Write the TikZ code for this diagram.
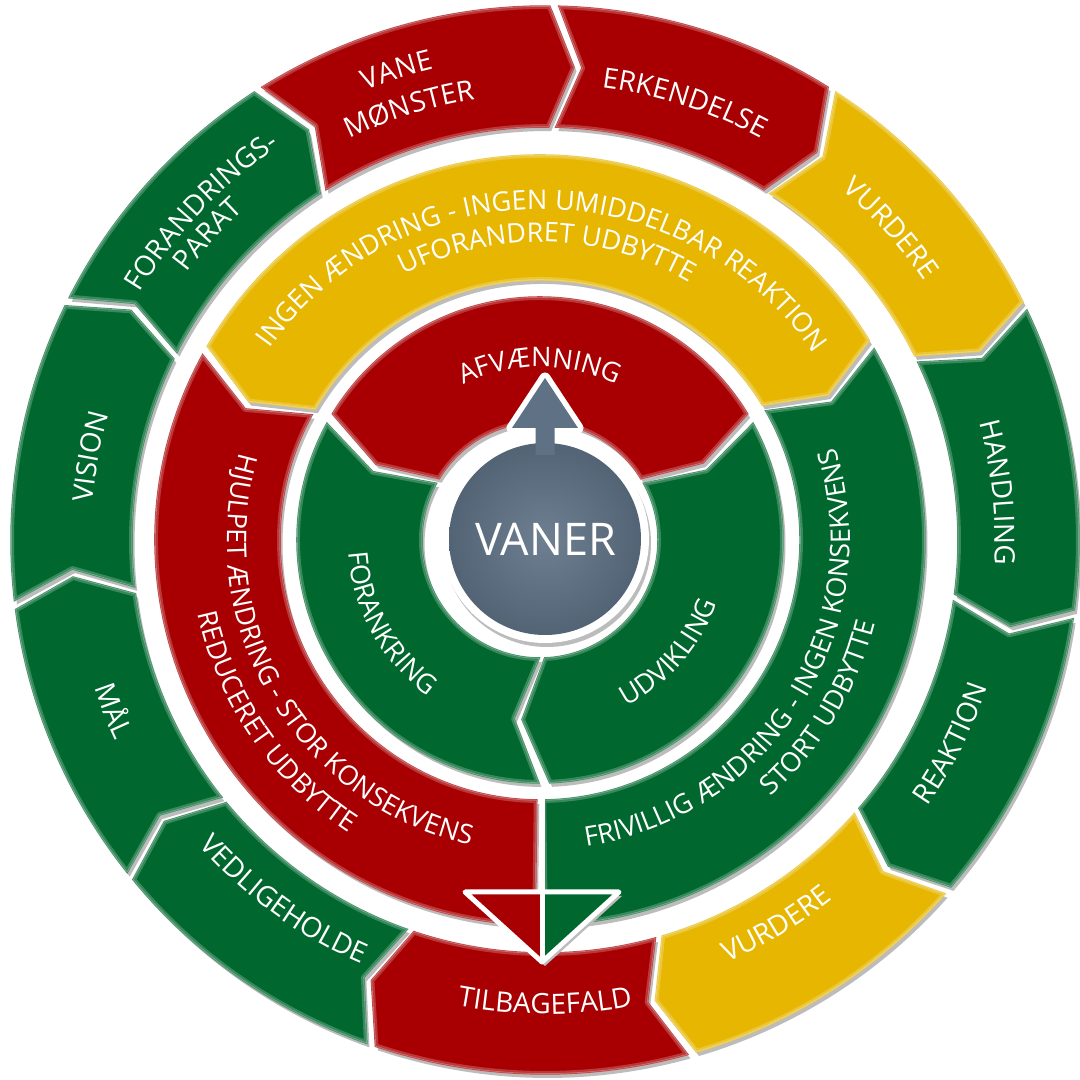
\documentclass[tikz,border=0pt]{standalone}
\usepackage{fontspec}
\setmainfont{Open Sans}
\usetikzlibrary{decorations.text}
\definecolor{cred}{RGB}{168,0,2}
\definecolor{cgreen}{RGB}{0,104,46}
\definecolor{cyellow}{RGB}{230,182,0}
\definecolor{cgrey}{RGB}{94,113,133}
\definecolor{cshadow}{RGB}{188,188,188}
\tikzset{
  segshadow/.style={fill=cshadow, shift={(2.5,-4)}},
  segfill/.style={fill=#1, draw=#1!72!white, line width=1.5},
  segrim/.style={draw=white, draw opacity=0.22, line width=6, line join=round}
}
\newif\ifshad
% #1 start angle (larger), #2 end angle, #3 inner r, #4 outer r, #5 kink at start, #6 kink at end, #7 colour
\newcommand\ringseg[7]{%
  \pgfmathsetmacro\rmid{(#3+#4)/2}%
  \pgfmathsetmacro\sgap{4/\rmid*57.2958}%
  \pgfmathsetmacro\sA{#1-\sgap}%
  \pgfmathsetmacro\sB{#2+\sgap}%
  \pgfmathsetmacro\kA{\sA+(#5)}%
  \pgfmathsetmacro\kB{\sB+(#6)}%
  \ifshad
    \fill[segshadow] (\sA:#4) -- (\kA:\rmid) -- (\sA:#3) arc[start angle=\sA, end angle=\sB, radius=#3] -- (\kB:\rmid) -- (\sB:#4) arc[start angle=\sB, end angle=\sA, radius=#4] -- cycle;
  \else
    \filldraw[segfill=#7] (\sA:#4) -- (\kA:\rmid) -- (\sA:#3) arc[start angle=\sA, end angle=\sB, radius=#3] -- (\kB:\rmid) -- (\sB:#4) arc[start angle=\sB, end angle=\sA, radius=#4] -- cycle;
    \begin{scope}
      \clip (\sA:#4) -- (\kA:\rmid) -- (\sA:#3) arc[start angle=\sA, end angle=\sB, radius=#3] -- (\kB:\rmid) -- (\sB:#4) arc[start angle=\sB, end angle=\sA, radius=#4] -- cycle;
      \draw[segrim] (\sA:#4) -- (\kA:\rmid) -- (\sA:#3) arc[start angle=\sA, end angle=\sB, radius=#3] -- (\kB:\rmid) -- (\sB:#4) arc[start angle=\sB, end angle=\sA, radius=#4] -- cycle;
    \end{scope}
  \fi}
% #1 direction (1 cw, -1 ccw), #2 size, #3 centre angle, #4 radius, #5 half span, #6 text
\newcommand\arctext[6]{%
  \pgfmathsetmacro\tA{#3+(#1)*(#5)}%
  \pgfmathsetmacro\tB{#3-(#1)*(#5)}%
  \path[decorate, decoration={text along path, text align=center, text={|\fontsize{#2}{#2}\selectfont\color{white}|#6}}] (\tA:#4) arc[start angle=\tA, end angle=\tB, radius=#4];}
\newcommand\allsegs{%
  \begin{scope}[shift={(545,540)}]
    \ringseg{122.5}{89}{413}{534}{-3}{-3}{cred}
    \ringseg{89}{57.5}{413}{534}{-3}{-3}{cred}
    \ringseg{57.5}{26}{413}{534}{-3}{-3}{cyellow}
    \ringseg{26}{-8}{413}{534}{-3}{-3}{cgreen}
    \ringseg{-8}{-41}{413}{534}{-3}{-3}{cgreen}
    \ringseg{-41}{-74}{413}{534}{-3}{-3}{cyellow}
    \ringseg{-74}{-109}{413}{534}{-3}{-3}{cred}
    \ringseg{-109}{-141}{413}{534}{-3}{-3}{cgreen}
    \ringseg{-141}{-173}{413}{534}{-3}{-3}{cgreen}
    \ringseg{-173}{-206.5}{413}{534}{-3}{-3}{cgreen}
    \ringseg{153.5}{122.5}{413}{534}{-3}{-3}{cgreen}
  \end{scope}
  \begin{scope}[shift={(540,540)}]
    \ringseg{150.5}{30.5}{260}{385}{4.8}{-4.5}{cyellow}
    \ringseg{270}{150.5}{260}{385}{0}{4.8}{cred}
    \ringseg{30.5}{-90}{260}{385}{-4.5}{0}{cgreen}
    \ringseg{150}{30}{118}{243}{6.5}{-6}{cred}
    \ringseg{30}{-89}{118}{243}{-6}{-8}{cgreen}
    \ringseg{271}{150}{118}{243}{-8}{6.5}{cgreen}
  \end{scope}}
\begin{document}
\begin{tikzpicture}[x=1pt,y=1pt]
\useasboundingbox (0,0) rectangle (1080,1080);
\fill[white] (0,0) rectangle (1080,1080);
\shadtrue\allsegs
\shadfalse\allsegs
\begin{scope}[shift={(540,540)}]
  % arrowhead joining the two side bands
  \fill[cshadow, shift={(3,-4)}] (-75,-352) -- (79,-352) -- (2,-422) -- cycle;
  \fill[cred] (-75,-352) -- (2,-352) -- (2,-422) -- cycle;
  \fill[cgreen] (2,-352) -- (79,-352) -- (2,-422) -- cycle;
  \draw[white, line width=5, line join=round] (-75,-352) -- (79,-352) -- (2,-422) -- cycle;
  \draw[white, line width=5] (2,-250) -- (2,-420);
  % centre disk with arrow
  \filldraw[white, line width=11, line join=round] (-4.5,85) -- (-4.5,112) -- (-28,112) -- (5,162) -- (38,112) -- (14.5,112) -- (14.5,85) -- cycle;
  \fill[cshadow] (7,-3) circle (104);
  \fill[white] (5,1) circle (104);
  \shade[inner color=cgrey!90!white, outer color=cgrey!88!black] (5,1) circle (96);
  \fill[cgrey] (-4.5,85) -- (-4.5,112) -- (-28,112) -- (5,162) -- (38,112) -- (14.5,112) -- (14.5,85) -- cycle;
  \node[font=\fontsize{45}{45}\selectfont, text=white] (vaner) at (6,1) {VANER};
  % middle ring texts
  \arctext{1}{27}{89.5}{331}{85}{INGEN ÆNDRING - INGEN UMIDDELBAR REAKTION}
  \arctext{1}{27}{88.5}{298}{70}{UFORANDRET UDBYTTE}
  \arctext{-1}{27}{210.5}{313}{80}{HJULPET ÆNDRING - STOR KONSEKVENS}
  \arctext{-1}{27}{214.5}{350}{70}{REDUCERET UDBYTTE}
  \arctext{-1}{27}{-32}{310}{80}{FRIVILLIG ÆNDRING - INGEN KONSEKVENS}
  \arctext{-1}{27}{-31}{345}{70}{STORT UDBYTTE}
  % inner ring texts
  \arctext{1}{27}{90}{173}{70}{AFVÆNNING}
  \arctext{-1}{27}{209}{192}{60}{FORANKRING}
  \arctext{-1}{27}{-41}{188}{60}{UDVIKLING}
\end{scope}
\begin{scope}[shift={(545,540)}]
  \arctext{1}{28}{107.5}{484}{40}{VANE}
  \arctext{1}{28}{107.5}{446}{40}{MØNSTER}
  \arctext{1}{28}{72.3}{456}{40}{ERKENDELSE}
  \arctext{1}{28}{42}{459}{40}{VURDERE}
  \arctext{1}{28}{6}{450}{40}{HANDLING}
  \arctext{-1}{28}{-26.6}{466}{40}{REAKTION}
  \arctext{-1}{28}{-59}{460}{40}{VURDERE}
  \arctext{-1}{28}{-90}{474}{40}{TILBAGEFALD}
  \arctext{-1}{28}{-126}{462}{40}{VEDLIGEHOLDE}
  \arctext{-1}{28}{201.6}{474}{40}{MÅL}
  \arctext{1}{28}{169.6}{454}{40}{VISION}
  \arctext{1}{28}{136.3}{475}{40}{FORANDRINGS-}
  \arctext{1}{28}{137.8}{447}{40}{PARAT}
\end{scope}
\end{tikzpicture}
\end{document}
